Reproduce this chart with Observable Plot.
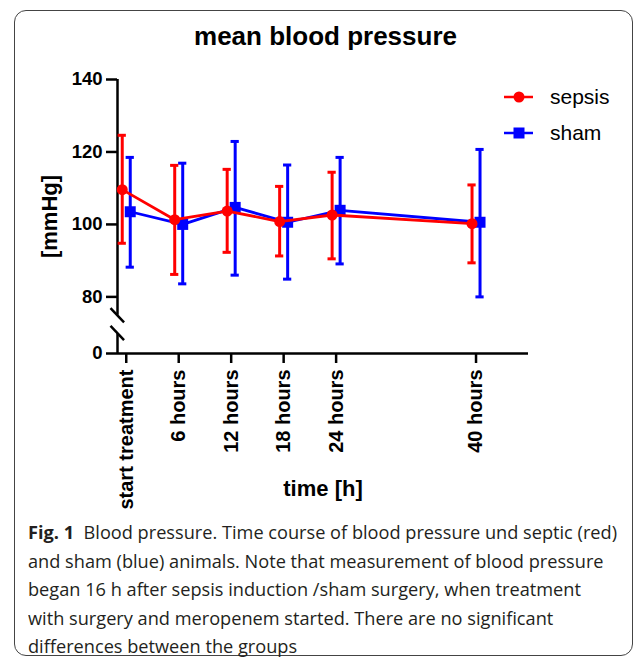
<!DOCTYPE html>
<html><head><meta charset="utf-8">
<script src="https://cdn.jsdelivr.net/npm/d3@7"></script>
<script src="https://cdn.jsdelivr.net/npm/@observablehq/plot@0.6"></script>
<style>
html,body{margin:0;padding:0;background:#fff;}
#fig{position:relative;width:637px;height:658px;overflow:hidden;font-family:"Liberation Sans",Arial,sans-serif;}
#box{position:absolute;left:14px;top:10px;width:619px;height:646px;border:1.3px solid #444;border-radius:12px;box-sizing:border-box;}
#title{position:absolute;left:14px;width:623px;top:21px;line-height:30px;text-align:center;font-size:26px;font-weight:bold;color:#000;}
#chart{position:absolute;left:0;top:55px;}
.leg{position:absolute;left:500px;height:26px;display:flex;align-items:center;font-size:21px;color:#000;}
.leg span{margin-left:14px;}
#caption{position:absolute;left:28px;top:518px;font-family:"Open Sans",sans-serif;font-size:18px;line-height:28.5px;color:#231f20;}
#caption div{white-space:nowrap;transform-origin:0 50%;}
</style></head>
<body>
<div id="fig">
  <div id="box"></div>
  <div id="title">mean blood pressure</div>
  <div id="chart"></div>
  <div class="leg" style="top:84px"><svg width="36" height="26"><line x1="4" x2="33" y1="13" y2="13" stroke="#ff0000" stroke-width="2.5"/><circle cx="19" cy="13" r="5.5" fill="#ff0000"/></svg><span>sepsis</span></div>
  <div class="leg" style="top:120px"><svg width="36" height="26"><line x1="4" x2="33" y1="13" y2="13" stroke="#0000ff" stroke-width="2.5"/><rect x="13.5" y="7.5" width="11" height="11" fill="#0000ff"/></svg><span>sham</span></div>
  <div id="caption">
    <div><b>Fig. 1</b>&nbsp; Blood pressure. Time course of blood pressure und septic (red)</div>
    <div>and sham (blue) animals. Note that measurement of blood pressure</div>
    <div>began 16 h after sepsis induction /sham surgery, when treatment</div>
    <div>with surgery and meropenem started. There are no significant</div>
    <div>differences between the groups</div>
  </div>
</div>
<script>
// ---- data ----
const hours = [0, 6, 12, 18, 24, 40];
const hourLabels = ["start treatment", "6 hours", "12 hours", "18 hours", "24 hours", "40 hours"];
const sepsisMean  = [109.6, 101.3, 103.7, 100.8, 102.6, 100.2];
const sepsisUpper = [124.6, 116.3, 115.2, 110.5, 114.4, 110.9];
const sepsisLower = [94.8, 86.2, 92.3, 91.3, 90.5, 89.4];
const shamMean  = [103.5, 100.0, 104.7, 100.6, 103.9, 100.6];
const shamUpper = [118.5, 116.9, 122.9, 116.4, 118.5, 120.7];
const shamLower = [88.2, 83.6, 86.0, 84.9, 89.1, 80.0];
const yTicks = [0, 80, 100, 120, 140];

// ---- axis layout constants ----
const X_MIN = -1, X_MAX = 46;
const Y_BREAK = 80;          // values below this are compressed (broken axis)
const BREAK_K = 0.1953;      // compression factor of the lower segment
const squash = v => v >= Y_BREAK ? v : Y_BREAK - (Y_BREAK - v) * BREAK_K;
const Y_SEG_TOP = 54, Y_SEG_BOTTOM = 28;
const breakSlashes = [
  {x1: -1.8, y1: 64, x2: -0.25, y2: 44},
  {x1: -1.8, y1: 39, x2: -0.25, y2: 19}
];
const CAP = 0.47;
const RED = "#ff0000", BLUE = "#0000ff";

const sepsis = hours.map((h, i) => ({hour: h, mean: sepsisMean[i], lower: sepsisLower[i], upper: sepsisUpper[i]}));
const sham = hours.map((h, i) => ({hour: h, mean: shamMean[i], lower: shamLower[i], upper: shamUpper[i]}));

function series(data, color, dx, symbol, r) {
  return [
    Plot.ruleX(data, {x: "hour", y1: "lower", y2: "upper", dx, stroke: color, strokeWidth: 3}),
    Plot.ruleY(data, {y: "upper", x1: d => d.hour - CAP, x2: d => d.hour + CAP, dx, stroke: color, strokeWidth: 3}),
    Plot.ruleY(data, {y: "lower", x1: d => d.hour - CAP, x2: d => d.hour + CAP, dx, stroke: color, strokeWidth: 3}),
    Plot.line(data, {x: "hour", y: "mean", dx, stroke: color, strokeWidth: 2.8}),
    Plot.dot(data, {x: "hour", y: "mean", dx, fill: color, stroke: "none", symbol, r})
  ];
}

const H = 465;
const plot = Plot.plot({
  width: 637,
  height: H,
  marginLeft: 117,
  marginRight: 109,
  marginTop: 24,
  marginBottom: H - 298,
  style: {fontFamily: "'Liberation Sans', Arial, sans-serif", background: "transparent", overflow: "visible", color: "#000"},
  x: {domain: [X_MIN, X_MAX]},
  y: {transform: squash, domain: [squash(0), 140]},
  marks: [
    Plot.axisY({ticks: yTicks.map(squash), tickSize: 11, tickPadding: 4, fontSize: 18.5, fontWeight: "bold", strokeWidth: 2.5, label: null,
      tickFormat: d => String(yTicks[yTicks.map(squash).indexOf(d)])}),
    Plot.axisX({ticks: hours, tickSize: 10, tickPadding: 6, tickRotate: -90, fontSize: 20, fontWeight: "bold", strokeWidth: 2.5, label: null,
      tickFormat: d => hourLabels[hours.indexOf(d)]}),
    Plot.ruleY([0], {x1: X_MIN, x2: X_MAX, strokeWidth: 2.5}),
    Plot.ruleX([X_MIN], {y1: Y_SEG_TOP, y2: 140, strokeWidth: 2.5}),
    Plot.ruleX([X_MIN], {y1: 0, y2: Y_SEG_BOTTOM, strokeWidth: 2.5}),
    Plot.link(breakSlashes, {x1: "x1", y1: "y1", x2: "x2", y2: "y2", strokeWidth: 2.5, stroke: "#000"}),
    Plot.text(["[mmHg]"], {frameAnchor: "left", textAnchor: "middle", lineAnchor: "middle", dx: -68, rotate: -90, fontSize: 22, fontWeight: "bold", fill: "#000"}),
    Plot.text(["time [h]"], {frameAnchor: "bottom", textAnchor: "middle", lineAnchor: "middle", dy: 135, fontSize: 22, fontWeight: "bold", fill: "#000"}),
    ...series(sham, BLUE, 4, "square", 6.2),
    ...series(sepsis, RED, -4, "circle", 5.5)
  ]
});
document.getElementById("chart").appendChild(plot);

// fit caption lines to the reference's line length
const lines = document.querySelectorAll("#caption div");
const range = document.createRange();
range.selectNodeContents(lines[0]);
const w = range.getBoundingClientRect().width;
const k = 589 / w;
lines.forEach(l => l.style.transform = `scaleX(${k})`);
</script>
</body></html>
